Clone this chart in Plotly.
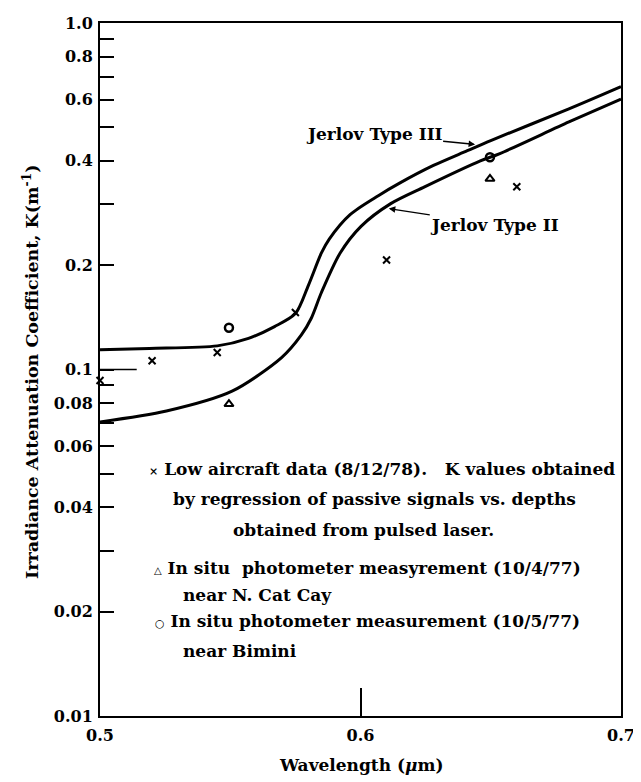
import plotly.graph_objects as go

# ---- data ----
type3_wl = [0.500, 0.519, 0.545, 0.557, 0.567, 0.575, 0.580, 0.585, 0.588, 0.596, 0.607, 0.615, 0.628, 0.641, 0.650, 0.680, 0.700]
type3_k  = [0.114, 0.115, 0.117, 0.123, 0.133, 0.145, 0.175, 0.217, 0.238, 0.280, 0.318, 0.345, 0.388, 0.428, 0.458, 0.565, 0.655]

type2_wl = [0.500, 0.5255, 0.5507, 0.5697, 0.5773, 0.5811, 0.585, 0.5922, 0.6002, 0.6116, 0.6246, 0.646, 0.6535, 0.680, 0.700]
type2_k  = [0.0706, 0.0759, 0.0866, 0.1082, 0.1258, 0.1406, 0.1668, 0.2169, 0.2589, 0.3011, 0.3366, 0.400, 0.420, 0.518, 0.6035]

aircraft_wl = [0.500, 0.520, 0.545, 0.575, 0.610, 0.660]
aircraft_k  = [0.093, 0.106, 0.112, 0.146, 0.207, 0.337]

catcay_wl = [0.5495, 0.6497]
catcay_k  = [0.0795, 0.355]

bimini_wl = [0.5495, 0.6497]
bimini_k  = [0.132, 0.410]

y_tickvals = [0.01, 0.02, 0.04, 0.06, 0.08, 0.1, 0.2, 0.4, 0.6, 0.8, 1.0]
y_ticktext = ["0.01", "0.02", "0.04", "0.06", "0.08", "0.1", "0.2", "0.4", "0.6", "0.8", "1.0"]
y_minor = [0.03, 0.05, 0.07, 0.09, 0.3, 0.5, 0.7, 0.9]
x_tickvals = [0.5, 0.6, 0.7]
x_ticktext = ["0.5", "0.6", "0.7"]

# ---- figure (page has an 8px body margin, so the figure is shifted/shrunk by 8px) ----
OFF = 8
W, H = 641 - OFF, 782 - OFF
L, R, T, B = 100 - OFF, 16, 14 - OFF, 66
PW, PH = W - L - R, H - T - B

def px(x):  # page pixel -> paper
    return (x - OFF - L) / PW

def py(y):
    return (H - B - (y - OFF)) / PH

FONT = "DejaVu Serif"
TICKF = dict(family=FONT, size=16, color="black", weight="bold")
TXT = dict(family=FONT, size=17, color="black", weight="bold")
YT = dict(family=FONT, size=17.5, color="black", weight="bold")

fig = go.Figure()
fig.add_trace(go.Scatter(x=type3_wl, y=type3_k, mode="lines", line=dict(color="black", width=3, shape="spline", smoothing=0.8), showlegend=False))
fig.add_trace(go.Scatter(x=type2_wl, y=type2_k, mode="lines", line=dict(color="black", width=3, shape="spline", smoothing=0.8), showlegend=False))
fig.add_trace(go.Scatter(x=aircraft_wl, y=aircraft_k, mode="markers", cliponaxis=False,
                         marker=dict(symbol="x-thin", size=7, color="black", line=dict(width=2, color="black")), showlegend=False))
fig.add_trace(go.Scatter(x=catcay_wl, y=catcay_k, mode="markers", cliponaxis=False,
                         marker=dict(symbol="triangle-up-open", size=8, color="black", line=dict(width=2, color="black")), showlegend=False))
fig.add_trace(go.Scatter(x=bimini_wl, y=bimini_k, mode="markers", cliponaxis=False,
                         marker=dict(symbol="circle-open", size=8, color="black", line=dict(width=2.5, color="black")), showlegend=False))

annots = []
annots.append(dict(text="Wavelength (<i>μ</i>m)", x=px(364), y=py(766), xref="paper", yref="paper",
                   showarrow=False, font=TXT, xanchor="center", yanchor="middle"))
annots.append(dict(text="Irradiance Attenuation Coefficient, K(m<sup>-1</sup>)", x=px(30), y=py(368),
                   xref="paper", yref="paper", showarrow=False, font=YT, textangle=-90,
                   xanchor="center", yanchor="middle"))
# curve labels with arrows (arrow tip on the curve, text centred at the offset)
annots.append(dict(text="Jerlov Type III", x=px(478), y=py(137), xref="paper", yref="paper",
                   showarrow=True, ax=377 - 478, ay=127 - 137, font=TXT,
                   arrowhead=2, arrowsize=1, arrowwidth=1.3, arrowcolor="black", borderpad=0))
annots.append(dict(text="Jerlov Type II", x=px(391), y=py(202), xref="paper", yref="paper",
                   showarrow=True, ax=497 - 391, ay=218 - 202, font=TXT,
                   arrowhead=2, arrowsize=1, arrowwidth=1.3, arrowcolor="black", borderpad=0))

legend_lines = [
    ("<span style='font-size:11px'>×</span> Low aircraft data (8/12/78).&nbsp;&nbsp; K values obtained", 147, 466),
    ("by regression of passive signals vs. depths", 172, 496),
    ("obtained from pulsed laser.", 232, 528),
    ("<span style='font-size:10px'>△</span> In situ&nbsp; photometer measyrement (10/4/77)", 152, 566),
    ("near N. Cat Cay", 182, 593),
    ("<span style='font-size:11px'>○</span> In situ photometer measurement (10/5/77)", 153, 620),
    ("near Bimini", 182, 650),
]
for txt, x0, y0 in legend_lines:
    annots.append(dict(text=txt, x=px(x0), y=py(y0), xref="paper", yref="paper", showarrow=False,
                       font=TXT, xanchor="left", yanchor="middle"))

fig.update_layout(
    width=W, height=H,
    margin=dict(l=L, r=R, t=T, b=B, pad=0),
    paper_bgcolor="white", plot_bgcolor="white",
    annotations=annots,
    shapes=[dict(type="line", xref="paper", yref="paper", x0=0, x1=37 / PW, y0=0.5, y1=0.5,
                 line=dict(color="black", width=1.5))],
)
fig.update_xaxes(range=[0.5, 0.7], tickvals=x_tickvals, ticktext=x_ticktext, ticks="inside", ticklen=28,
                 tickwidth=1.5, tickcolor="black", showline=True, mirror=True, linecolor="black", linewidth=2,
                 showgrid=False, zeroline=False, tickfont=TICKF, ticklabelstandoff=4, ticklabeloverflow="allow")
fig.update_yaxes(type="log", range=[-2, 0], tickvals=y_tickvals, ticktext=y_ticktext, ticks="inside", ticklen=14,
                 tickwidth=1.5, tickcolor="black", showline=True, mirror=True, linecolor="black", linewidth=2,
                 showgrid=False, zeroline=False, tickfont=TICKF, ticklabelstandoff=2, ticklabeloverflow="allow",
                 minor=dict(tickvals=y_minor, ticks="inside", ticklen=14, tickwidth=1.5, tickcolor="black", showgrid=False))

fig.write_html("out.html")
